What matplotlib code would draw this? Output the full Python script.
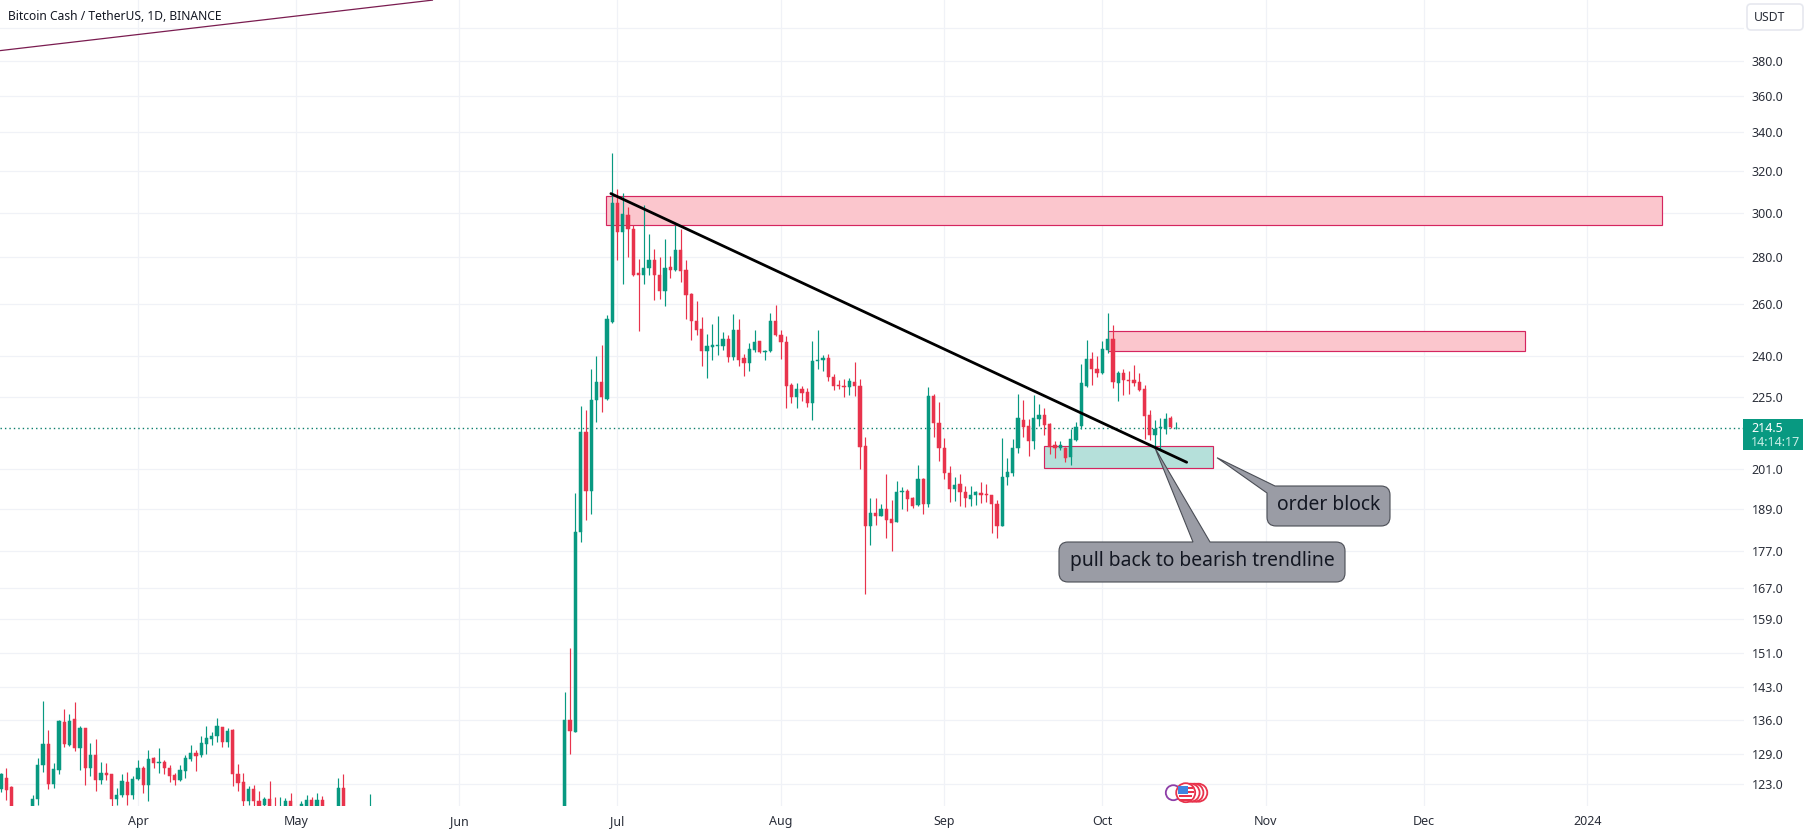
import matplotlib
matplotlib.use("Agg")
import matplotlib.pyplot as plt
import matplotlib.dates as mdates
import numpy as np
import pandas as pd
from matplotlib.patches import PathPatch, Rectangle, Circle
from matplotlib.path import Path
from matplotlib.transforms import Affine2D

W, H = 1807, 834
FONT = "Noto Sans"
plt.rcParams["font.family"] = [FONT, "DejaVu Sans"]

# ---- data -------------------------------------------------------------
spring_start = "2023-03-06"
spring_open = [122.1,124.2,122.4,118.0,117.2,116.8,117.5,120.25,126.65,131.0,123.1,125.7,135.6,130.75,136.1,130.1,134.15,126.05,128.7,123.7,125.2,124.85,120.25,120.85,123.4,120.95,123.9,126.2,122.9,128.0,127.05,127.4,126.2,124.65,123.7,125.5,127.9,129.05,128.7,131.0,132.0,132.5,134.45,131.35,133.9,124.85,123.3,119.7,122.05,119.8,119.0,120.15,118.5,118.0,118.3,119.8,118.3,118.3,118.2,119.95,118.0,119.95,118.0,117.4,118.0,122.25,118.0,116.2,116.6,116.0,116.0]
spring_high = [125.2,126.2,122.7,118.4,118.0,117.8,120.9,128.0,140.1,133.9,127.2,136.0,138.2,137.2,139.7,134.7,134.3,131.1,131.95,127.4,127.2,125.0,122.25,124.85,125.4,124.5,127.75,126.6,129.7,128.3,130.05,127.75,126.65,125.2,126.65,128.65,130.75,129.7,132.5,134.65,133.45,136.25,134.5,134.3,134.1,127.0,125.2,122.7,122.9,121.7,120.45,123.5,120.45,120.45,120.3,121.2,118.7,119.7,120.85,120.45,121.2,120.65,118.5,118.4,124.15,124.85,118.5,117.4,117.6,117.2,121.1]
spring_low = [121.5,120.0,117.0,116.5,116.2,116.0,116.5,119.0,125.3,122.1,122.2,124.85,130.4,130.6,129.5,125.7,122.9,124.5,121.6,123.1,123.7,118.5,119.0,120.5,119.0,120.2,123.75,121.3,119.7,126.1,125.2,125.0,123.4,122.85,123.55,124.1,127.55,125.5,128.2,128.9,130.75,131.3,130.4,130.4,122.7,121.6,118.5,119.0,118.5,118.5,118.5,118.0,117.5,117.5,118.0,117.8,117.5,117.8,117.8,117.8,117.6,117.6,116.8,116.6,117.5,117.0,115.5,115.0,115.4,115.2,115.4]
spring_close = [125.0,121.9,118.0,117.2,116.8,117.0,120.2,126.7,131.0,123.1,126.0,135.7,131.0,135.8,130.1,134.15,126.05,128.65,123.75,125.2,124.65,120.25,120.95,123.5,120.95,124.0,126.2,122.9,127.95,127.05,127.3,126.05,124.5,123.75,125.65,128.15,129.05,128.6,131.1,132.15,132.65,134.6,131.35,133.7,124.9,123.15,119.7,122.05,119.7,118.9,120.2,118.4,118.0,118.6,119.8,118.3,118.6,119.15,119.95,118.2,119.95,118.0,117.4,118.0,122.25,118.0,116.2,116.6,116.0,116.8,117.0]

summer_start = "2023-06-21"
summer_open = [117,136,133.45,182.2,213,194.2,223.8,230.2,224.4,253,304.7,291.1,299,292.5,272.8,272,275.2,278.6,272.3,265.6,275.4,274.1,282.9,274.4,264.2,253.3,250.2,241.9,243.3,243.6,243.6,246.3,239.4,249.9,239,237.1,242.1,245.6,241.3,241.7,253.3,248,245.2,229.2,225.1,227.8,226.8,223,237.9,238.2,239,232.1,229.4,229,228.4,230.4,229,208.4,184.1,187.6,187,189,186.1,185.1,193.9,194.4,192.2,190,198.1,190.4,225.4,216.2,207.9,199.9,195,196.5,194.1,192,193,193.7,193.5,193,190.4,184.1,198.5,199.7,207.8,217.2,214.9,209.9,217.5,218.9,215.8,208.8,207.7,207.7,204.8,210.4,215,228.8,238.7,235.2,233.7,242.1,246.3,230,233.4,231,231.2,230.3,227.9,218.8,212.1,214.4,213.9,217.7,214.2]
summer_high = [141.95,152,193.7,222,220.3,235,239.7,244.05,255.8,329.1,311.2,309.5,302.7,294.2,279,303.5,290,283.4,279.9,288,280.5,294.4,292.5,278.4,264.4,261.4,254.9,248.3,252.1,255.4,248.9,248,255.9,254.2,240.4,244.7,249.9,245.7,242,256.5,259.8,249.9,247.6,230.1,230.1,229,228,245.7,249.9,240.3,240.7,233.3,231.2,231.5,231.6,237.5,231.5,211.4,192.1,192.3,190.4,199.5,191.6,197.2,195.4,194.9,192.6,202.2,198.2,228.6,226.1,223.2,211.1,202,198.5,199.4,195.7,195.9,194.2,197,196.5,193.2,191.6,210.9,204.5,210.7,226.1,224,217.5,225.7,222.6,221.2,215.9,210.2,209.9,208.2,213.9,216.3,237,246,241.5,240,245.6,256.5,251.9,234.3,235.1,234.3,236.5,233.7,229.4,220.4,217.2,217.8,219.3,218.4,216.3]
summer_low = [116,128.9,133.3,179.3,185.8,187.5,216.3,219.8,224,252.5,278.4,268.5,279.7,271.6,249.2,268.5,272.3,261.8,262,259.1,270.9,273.8,269.1,253.9,246,247.7,236.1,231.9,238.5,240.3,242.1,237.5,238.5,236.1,232.3,234.2,241.2,241.1,238.5,241.5,247.5,238.8,221,223,221,223.7,221.6,216.9,235.2,234.2,230.5,227.5,227.8,225.1,225.7,225.5,201.2,165.4,178.6,184.2,186.8,180.6,176.8,185,189,188.4,189.2,189.9,187.3,189.5,211.4,203.7,198.1,191,191.3,189.9,189.5,189.7,190.2,190.8,191.1,182,180.6,184,196,198.8,206.3,211.4,205.3,207.5,215,211.9,205.9,204.4,207.1,203.2,202.2,209.9,213.9,228.4,229.4,232.2,233.2,240.9,228,223.7,225.8,226.2,228.8,227.1,210.8,210.5,207.7,207.4,212.4,214.5,213.9]
summer_close = [136,133.6,182.3,213,194.2,224,230.2,225,253.9,304.7,291.1,299.5,292.2,272.3,272,275.2,278.5,272,265.6,275,274.1,282.9,273.8,263.9,253.2,249.9,241.9,243.7,244,244.1,246.3,239.4,249.8,238.2,237.1,242.5,245.2,241.2,241.8,253.3,247.7,245,229,225.1,227.7,226.5,222.8,238,238.5,239,232,229,228.8,228.5,230.5,228.8,208.2,184.1,187.6,187,188.9,185.6,184.8,194.1,194.3,192,189.9,198.1,190.4,225.4,215.9,207.7,199.7,195,196.1,193.9,192.1,193.1,193.9,193,193,190.3,184.1,198.6,200,207.7,217.7,214.6,209.9,217.7,218.9,215.3,208.2,207.7,208.6,204.5,210.8,214.8,229.8,238.8,235,233.7,242.4,246.3,230.3,233.4,230.9,230.8,230,227.4,218.4,212.1,214.1,214.6,217.5,214.6,214.5]

last_price = 214.5
y_ticks = [400, 380, 360, 340, 320, 300, 280, 260, 240, 225, 201, 189, 177, 167, 159, 151, 143, 136, 129, 123]
y_labels = ["", "380.0", "360.0", "340.0", "320.0", "300.0", "280.0", "260.0", "240.0", "225.0", "201.0", "189.0", "177.0", "167.0", "159.0", "151.0", "143.0", "136.0", "129.0", "123.0"]
x_dates = ["2023-04-01", "2023-05-01", "2023-06-01", "2023-07-01", "2023-08-01", "2023-09-01", "2023-10-01", "2023-11-01", "2023-12-01", "2024-01-01"]
x_labels = ["Apr", "May", "Jun", "Jul", "Aug", "Sep", "Oct", "Nov", "Dec", "2024"]

zone_upper = ("2023-06-28 21:00", "2024-01-15 03:00", 294.3, 307.6)
zone_mid = ("2023-10-02", "2023-12-20 03:00", 241.6, 249.4)
zone_low = ("2023-09-20", "2023-10-22", 201.4, 208.35)
trend_dates = ["2023-06-29 18:00", "2023-10-17"]
trend_prices = [309.0, 203.2]
long_line_dates = ["2023-03-05 19:55", "2023-05-27"]
long_line_prices = [386.2, 417.9]

# ---- colours ----------------------------------------------------------
GREEN = "#089981"
RED = "#E8334C"
GRID = "#F0F2F7"
TEXT = "#2A2E39"
EDGE = "#D5255F"

fig = plt.figure(figsize=(W / 100, H / 100), dpi=100, facecolor="white")
AX_R, AX_B = 1743.5, 806
ax = fig.add_axes([0, 1 - AX_B / H, AX_R / W, AX_B / H])
ax.set_yscale("log")
ax.set_ylim(380 * np.exp(-(AX_B - 61) / 641), 380 * np.exp(61 / 641))
d = lambda s: mdates.date2num(pd.Timestamp(s))
ax.set_xlim(d("2023-03-05 19:55"), d("2024-01-30 15:50"))

for s in ax.spines.values():
    s.set_visible(False)
ax.yaxis.tick_right()
ax.set_yticks(y_ticks, y_labels)
ax.minorticks_off()
ax.yaxis.set_minor_locator(matplotlib.ticker.NullLocator())
ax.set_xticks([d(s) for s in x_dates], x_labels)
ax.tick_params(axis="y", length=0, pad=6, labelsize=9, labelcolor=TEXT)
ax.tick_params(axis="x", length=0, pad=6.5, labelsize=9, labelcolor=TEXT)
ax.grid(True, color=GRID, lw=0.9)
ax.set_axisbelow(True)


def zone(z, face):
    x0, x1 = d(z[0]), d(z[1])
    ax.add_patch(Rectangle((x0, z[2]), x1 - x0, z[3] - z[2], facecolor=face, edgecolor=EDGE, lw=0.85, zorder=1.5))


zone(zone_upper, "#FBC6CD")
zone(zone_mid, "#FBC6CD")
zone(zone_low, "#B5E0DA")


def candles(start, o, h, l, c):
    x = mdates.date2num(pd.date_range(start, periods=len(o), freq="D"))
    o, h, l, c = map(np.array, (o, h, l, c))
    cols = np.where(c >= o, GREEN, RED)
    ax.vlines(x, l, h, colors=cols, lw=0.85, zorder=2.5)
    ax.bar(x, np.abs(c - o), bottom=np.minimum(o, c), width=0.62, color=cols,
           edgecolor=cols, lw=0.35, zorder=3)


candles(spring_start, spring_open, spring_high, spring_low, spring_close)
candles(summer_start, summer_open, summer_high, summer_low, summer_close)

ax.axhline(last_price, color="#0B7F6C", lw=1.0, ls=(0, (1, 2.2)), zorder=2)
ax.plot([d(s) for s in long_line_dates], long_line_prices, color="#7A1C50", lw=0.9, zorder=4, solid_capstyle="butt")
ax.plot([d(s) for s in trend_dates], trend_prices, color="black", lw=2.0, zorder=6, solid_capstyle="round")

# ---- overlays in pixel space ------------------------------------------
px = Affine2D().scale(1 / W, -1 / H).translate(0, 1) + fig.transFigure


def rounded_poly(points):
    """points: (x, y, corner radius); builds a closed rounded path."""
    verts, codes = [], []
    n = len(points)
    for i, (x, y, r) in enumerate(points):
        p = np.array([x, y], float)
        if r == 0:
            verts.append(p)
            codes.append(Path.MOVETO if i == 0 else Path.LINETO)
            continue
        prev = np.array(points[i - 1][:2], float)
        nxt = np.array(points[(i + 1) % n][:2], float)
        a = p + (prev - p) / np.linalg.norm(prev - p) * r
        b = p + (nxt - p) / np.linalg.norm(nxt - p) * r
        verts += [a, p, b]
        codes += [Path.MOVETO if i == 0 else Path.LINETO, Path.CURVE3, Path.CURVE3]
    verts.append(verts[0])
    codes.append(Path.CLOSEPOLY)
    return Path(verts, codes)


def callout(points, zorder=5):
    patch = PathPatch(rounded_poly(points), facecolor="#9A9CA5", edgecolor="#4A4D55", lw=0.8,
                      transform=px, zorder=zorder, clip_on=False)
    ax.add_patch(patch)


R = 9
callout([(1059, 582, R), (1059, 542, R), (1193, 542, 0), (1155, 448, 0), (1210, 542, 0), (1345, 542, R), (1345, 582, R)])
callout([(1267, 526, R), (1267, 493, 0), (1217, 457.7, 0), (1275, 486, 0), (1390, 486, R), (1390, 526, R)])


def ptext(x, y, s, **kw):
    kw.setdefault("va", "center")
    kw.setdefault("ha", "left")
    kw.setdefault("color", TEXT)
    return fig.text(x / W, 1 - y / H, s, **kw)


ptext(1202, 561, "pull back to bearish trendline", fontsize=13.9, ha="center", color="#131722", zorder=10)
ptext(1328.5, 505, "order block", fontsize=13.9, ha="center", color="#131722", zorder=10)
ptext(8, 16.5, "Bitcoin Cash / TetherUS, 1D, BINANCE", fontsize=8.7, fontweight="bold", color="#131722")

# price label
ax.add_patch(Rectangle((1743.3, 419), 59.4, 31, facecolor=GREEN, edgecolor="none", transform=px, clip_on=False, zorder=7))
ptext(1751, 428, "214.5", fontsize=9, color="white", fontweight="bold", zorder=10)
ptext(1751, 442, "14:14:17", fontsize=9, color="#C9EFE7", zorder=10)

# currency button
ax.add_patch(PathPatch(rounded_poly([(1747, 4, 4), (1803, 4, 4), (1803, 30, 4), (1747, 30, 4)]), facecolor="white",
                       edgecolor="#E6E8EF", lw=1.2, transform=px, clip_on=False, zorder=7))
ptext(1770, 17.5, "USDT", fontsize=8.8, ha="center", zorder=10)

# economic-event badge
cy = 792.7
for cx, col, r in [(1173.3, "#8E3FA8", 7.5), (1198.3, RED, 9), (1194.4, RED, 9), (1190.6, RED, 9)]:
    ax.add_patch(Circle((cx, cy), r, facecolor="white", edgecolor=col, lw=1.3, transform=px, clip_on=False, zorder=7))
ax.add_patch(Circle((1185.7, cy), 9.5, facecolor="white", edgecolor=RED, lw=1.3, transform=px, clip_on=False, zorder=7.1))
for yy in (795.5, 799.2):
    ax.add_patch(Rectangle((1179.5, yy), 12.5, 1.8, facecolor=RED, edgecolor="none", transform=px, clip_on=False, zorder=7.2))
ax.add_patch(Rectangle((1178.5, 786), 10, 8.5, facecolor="#3F84E0", edgecolor="none", transform=px, clip_on=False, zorder=7.2))
ax.add_patch(Rectangle((1188.5, 787.5), 4.5, 1.8, facecolor=RED, edgecolor="none", transform=px, clip_on=False, zorder=7.2))
ax.add_patch(Rectangle((1188.5, 791), 5.5, 1.8, facecolor=RED, edgecolor="none", transform=px, clip_on=False, zorder=7.2))

fig.savefig("out.png", dpi=100, facecolor="white")
